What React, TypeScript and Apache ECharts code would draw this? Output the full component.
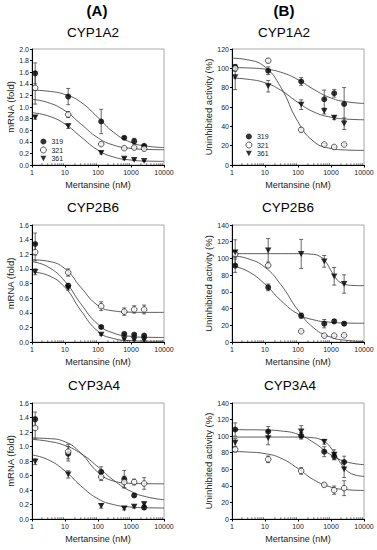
import React, { useEffect, useRef } from "react";
import * as echarts from "echarts";

// ---------------- data ----------------
const LOTS = ["319", "321", "361"];
const CONC = [1.25, 12.5, 125, 625, 1250, 2500];
const X_TICKS = [1, 10, 100, 1000, 10000];
const FIT_X = [1, 3, 10, 30, 100, 300, 1000, 3000, 10000];
const FIT_X_STEEP = [1, 10, 100, 300, 500, 700, 1000, 1500, 2000, 3000, 5000, 10000];
const MINOR_X = [
  2, 3, 4, 5, 6, 7, 8, 9, 20, 30, 40, 50, 60, 70, 80, 90,
  200, 300, 400, 500, 600, 700, 800, 900, 2000, 3000, 4000, 5000, 6000, 7000, 8000, 9000,
];

// (A) CYP1A2 mRNA (fold)
const A1_319 = [1.58, 1.18, 0.75, 0.47, 0.41, 0.33];
const A1_319_ERR = [0.18, 0.14, 0.21, 0.02, 0.05, 0.02];
const A1_321 = [1.33, 0.87, 0.36, 0.29, 0.3, 0.28];
const A1_321_ERR = [0.28, 0.05, 0.02, 0.02, 0.02, 0.03];
const A1_361 = [0.82, 0.67, 0.21, 0.11, 0.09, 0.07];
const A1_361_ERR = [0.03, 0.04, 0.02, 0.02, 0.01, 0.01];
const A1_319_FIT = [1.291, 1.273, 1.216, 1.084, 0.819, 0.561, 0.39, 0.326, 0.301];
const A1_321_FIT = [1.131, 1.078, 0.935, 0.71, 0.468, 0.342, 0.286, 0.269, 0.263];
const A1_361_FIT = [0.901, 0.849, 0.707, 0.488, 0.256, 0.137, 0.085, 0.068, 0.063];

// (B) CYP1A2 uninhibited activity (%)
const B1_319 = [101, 97.5, 86.4, 68, 74.2, 63.1];
const B1_319_ERR = [3, 4, 4, 9.5, 4, 17];
const B1_321 = [100, 107.9, 36.4, 21.2, 18.7, 21.2];
const B1_321_ERR = [3, 2, 2, 1, 1, 1];
const B1_361 = [91, 81.5, 62.4, 55.8, 48.9, 42.7];
const B1_361_ERR = [13, 6, 5, 3, 2, 6];
const B1_319_FIT = [100.8, 100.4, 99.2, 96.0, 88.3, 78.2, 69.3, 65.4, 63.7];
const B1_321_FIT = [110.5, 108.8, 101.4, 80.5, 44.7, 24.3, 17.1, 15.5, 15.1];
const B1_361_FIT = [89.9, 88.7, 85.1, 77.4, 64.7, 54.9, 49.4, 47.5, 46.8];

// (A) CYP2B6 mRNA (fold)
const A2_319 = [1.34, 0.77, 0.205, 0.11, 0.1, 0.087];
const A2_319_ERR = [0.15, 0.03, 0.02, 0.01, 0.01, 0.01];
const A2_321 = [1.23, 0.95, 0.49, 0.415, 0.445, 0.445];
const A2_321_ERR = [0.12, 0.05, 0.06, 0.05, 0.05, 0.06];
const A2_361 = [0.96, 0.74, 0.1, 0.04, 0.03, 0.025];
const A2_361_ERR = [0.04, 0.03, 0.01, 0.01, 0.01, 0.01];
const A2_319_FIT = [1.098, 1.029, 0.829, 0.524, 0.241, 0.121, 0.077, 0.065, 0.062];
const A2_321_FIT = [1.125, 1.105, 1.002, 0.749, 0.499, 0.425, 0.408, 0.405, 0.405];
const A2_361_FIT = [0.956, 0.913, 0.746, 0.433, 0.146, 0.047, 0.018, 0.012, 0.01];

// (B) CYP2B6 uninhibited activity (%)
const B2_319 = [91.3, 65.4, 31.5, 21.9, 24.7, 21.9];
const B2_319_ERR = [8, 4, 3, 5, 2, 2];
const B2_321 = [105.3, 91.7, 12.8, 7.6, 7.6, 8.0];
const B2_321_ERR = [4, 2, 1, 1, 1, 1];
const B2_361 = [107.3, 109.7, 105.3, 96.5, 78.6, 69.4];
const B2_361_ERR = [15, 14, 17.5, 7, 10.5, 11];
const B2_319_FIT = [91.2, 84.7, 69.2, 49.8, 33.5, 26.5, 23.6, 22.7, 22.4];
const B2_321_FIT = [103.2, 99.8, 89.4, 68.8, 38.1, 16.8, 5.66, 1.96, 0.6];
const B2_361_FIT = [105.7, 105.7, 105.7, 104.8, 101.5, 95.6, 85.4, 74.9, 70.8, 68.4, 67.6, 67.4];

// (A) CYP3A4 mRNA (fold)
const A3_319 = [1.375, 0.9, 0.65, 0.55, 0.325, 0.16];
const A3_319_ERR = [0.1, 0.1, 0.07, 0.12, 0.02, 0.03];
const A3_321 = [1.256, 0.93, 0.58, 0.51, 0.51, 0.49];
const A3_321_ERR = [0.15, 0.1, 0.05, 0.08, 0.04, 0.08];
const A3_361 = [0.79, 0.615, 0.18, 0.145, 0.17, 0.205];
const A3_361_ERR = [0.04, 0.05, 0.03, 0.02, 0.02, 0.03];
const A3_319_FIT = [1.097, 1.073, 1.014, 0.905, 0.719, 0.533, 0.381, 0.305, 0.266];
const A3_321_FIT = [1.118, 1.11, 1.065, 0.91, 0.644, 0.523, 0.492, 0.487, 0.485];
const A3_361_FIT = [0.883, 0.82, 0.663, 0.458, 0.278, 0.198, 0.165, 0.155, 0.152];

// (B) CYP3A4 uninhibited activity (%)
const B3_319 = [108, 105.6, 100.4, 81.2, 75.6, 68.8];
const B3_319_ERR = [8, 6, 4, 6, 4, 7];
const B3_321 = [84, 72, 58, 41.2, 34.8, 37.2];
const B3_321_ERR = [3, 4, 4, 2, 5, 9];
const B3_361 = [92, 97.6, 105.6, 93.2, 77.6, 60];
const B3_361_ERR = [5, 8, 7, 3, 6, 10];
const B3_319_FIT = [107.8, 107.7, 107.4, 106.3, 102.2, 92.3, 77.3, 68.9, 65.6];
const B3_321_FIT = [81.4, 80.8, 78.9, 73.5, 60.9, 47.3, 38.5, 35.4, 34.4];
const B3_361_FIT = [98.9, 98.9, 98.9, 98.0, 95.7, 92.3, 85.7, 74.8, 66.9, 58.5, 53.5, 51.5];

const GENES = ["CYP1A2", "CYP2B6", "CYP3A4"];
const Y_NAMES = ["mRNA (fold)", "Uninhibited activity (%)"];
const X_NAME = "Mertansine (nM)";

type Panel = {
  gene: string;
  kind: number; // 0 mRNA, 1 activity
  yMax: number;
  yStep: number;
  mean: number[][];
  err: number[][];
  fitX: number[][];
  fitY: number[][];
};

const PANELS: Panel[] = [
  { gene: GENES[0], kind: 0, yMax: 2.0, yStep: 0.2,
    mean: [A1_319, A1_321, A1_361], err: [A1_319_ERR, A1_321_ERR, A1_361_ERR],
    fitX: [FIT_X, FIT_X, FIT_X], fitY: [A1_319_FIT, A1_321_FIT, A1_361_FIT] },
  { gene: GENES[0], kind: 1, yMax: 120, yStep: 20,
    mean: [B1_319, B1_321, B1_361], err: [B1_319_ERR, B1_321_ERR, B1_361_ERR],
    fitX: [FIT_X, FIT_X, FIT_X], fitY: [B1_319_FIT, B1_321_FIT, B1_361_FIT] },
  { gene: GENES[1], kind: 0, yMax: 1.6, yStep: 0.2,
    mean: [A2_319, A2_321, A2_361], err: [A2_319_ERR, A2_321_ERR, A2_361_ERR],
    fitX: [FIT_X, FIT_X, FIT_X], fitY: [A2_319_FIT, A2_321_FIT, A2_361_FIT] },
  { gene: GENES[1], kind: 1, yMax: 140, yStep: 20,
    mean: [B2_319, B2_321, B2_361], err: [B2_319_ERR, B2_321_ERR, B2_361_ERR],
    fitX: [FIT_X, FIT_X, FIT_X_STEEP], fitY: [B2_319_FIT, B2_321_FIT, B2_361_FIT] },
  { gene: GENES[2], kind: 0, yMax: 1.6, yStep: 0.2,
    mean: [A3_319, A3_321, A3_361], err: [A3_319_ERR, A3_321_ERR, A3_361_ERR],
    fitX: [FIT_X, FIT_X, FIT_X], fitY: [A3_319_FIT, A3_321_FIT, A3_361_FIT] },
  { gene: GENES[2], kind: 1, yMax: 140, yStep: 20,
    mean: [B3_319, B3_321, B3_361], err: [B3_319_ERR, B3_321_ERR, B3_361_ERR],
    fitX: [FIT_X, FIT_X, FIT_X_STEEP], fitY: [B3_319_FIT, B3_321_FIT, B3_361_FIT] },
];

// ---------------- layout / style ----------------
const FONT = "'Liberation Sans', Arial, Helvetica, sans-serif";
const LAYOUT = [
  { left: 32, top: 49, height: 116, titleX: 93, titleY: 25 },
  { left: 232, top: 49, height: 116, titleX: 284, titleY: 25 },
  { left: 32, top: 225, height: 117, titleX: 93, titleY: 200 },
  { left: 232, top: 225, height: 117, titleX: 288, titleY: 200 },
  { left: 32, top: 403, height: 116, titleX: 94, titleY: 378 },
  { left: 232, top: 403, height: 116, titleX: 290, titleY: 378 },
];
const TRI = "path://M0,0L10,0L5,9Z";
const SYMBOLS = [
  { symbol: "circle", size: 6 as any, itemStyle: { color: "#000", borderColor: "#000", borderWidth: 0 } },
  { symbol: "circle", size: 5.6 as any, itemStyle: { color: "#fff", borderColor: "#000", borderWidth: 0.8 } },
  { symbol: TRI, size: [6.5, 5.8] as any, itemStyle: { color: "#000", borderColor: "#000", borderWidth: 0 } },
];

function buildOption() {
  const grid: any[] = [];
  const xAxis: any[] = [];
  const yAxis: any[] = [];
  const series: any[] = [];
  const title: any[] = [
    { text: "(A)", left: 97, top: 3, textAlign: "center", padding: 0,
      textStyle: { fontSize: 15, fontWeight: "bold", color: "#000", fontFamily: FONT } },
    { text: "(B)", left: 284, top: 3, textAlign: "center", padding: 0,
      textStyle: { fontSize: 15, fontWeight: "bold", color: "#000", fontFamily: FONT } },
  ];

  PANELS.forEach((p, i) => {
    const L = LAYOUT[i];
    grid.push({
      left: L.left, top: L.top, width: 132, height: L.height,
      show: true, borderColor: "#a8a8a8", borderWidth: 1, backgroundColor: "transparent",
    });
    title.push({
      text: p.gene, left: L.titleX, top: L.titleY, textAlign: "center", padding: 0,
      textStyle: { fontSize: 13.5, fontWeight: "normal", color: "#000", fontFamily: FONT },
    });
    xAxis.push({
      gridIndex: i, type: "log", logBase: 10, min: X_TICKS[0], max: X_TICKS[X_TICKS.length - 1],
      axisLine: { show: true, lineStyle: { color: "#000", width: 1 } },
      axisTick: { show: true, length: 2.5, lineStyle: { color: "#000", width: 1 } },
      axisLabel: {
        fontSize: 7, margin: 4, color: "#222", fontFamily: FONT,
        formatter: (v: number) => String(Math.round(v)),
      },
      splitLine: { show: false },
      minorTick: { show: false },
      name: X_NAME, nameLocation: "middle", nameGap: 15,
      nameTextStyle: { fontSize: 9, color: "#222", fontFamily: FONT },
    });
    yAxis.push({
      gridIndex: i, type: "value", min: 0, max: p.yMax, interval: p.yStep,
      axisLine: { show: true, lineStyle: { color: "#000", width: 1 } },
      axisTick: { show: true, length: 2, lineStyle: { color: "#000", width: 1 } },
      axisLabel: {
        fontSize: 7, margin: 3, color: "#222", fontFamily: FONT,
        formatter: (v: number) => (p.kind === 0 ? v.toFixed(1) : String(Math.round(v))),
      },
      splitLine: { show: false },
      name: Y_NAMES[p.kind], nameLocation: "middle", nameGap: p.kind === 0 ? 17 : 19,
      nameTextStyle: { fontSize: 9.5, color: "#222", fontFamily: FONT },
    });

    // minor log ticks
    series.push({
      type: "custom", xAxisIndex: i, yAxisIndex: i, silent: true, z: 1,
      data: MINOR_X.map((v) => [v, 0]),
      encode: { x: 0, y: 1 },
      clip: false,
      renderItem: (params: any, api: any) => {
        const pt = api.coord([api.value(0), api.value(1)]);
        return {
          type: "line",
          shape: { x1: pt[0], y1: pt[1], x2: pt[0], y2: pt[1] - 1.8 },
          style: { stroke: "#555", lineWidth: 0.8 },
        };
      },
    });

    LOTS.forEach((lot, j) => {
      // fitted curve
      series.push({
        name: lot + " fit", type: "line", xAxisIndex: i, yAxisIndex: i, silent: true,
        data: p.fitX[j].map((x, k) => [x, p.fitY[j][k]]),
        showSymbol: false, symbol: "none", smooth: 0.5,
        lineStyle: { color: "#333", width: 0.8 }, z: 1,
      });
      // error bars
      series.push({
        name: lot + " err", type: "custom", xAxisIndex: i, yAxisIndex: i, silent: true, z: 2,
        data: CONC.map((c, k) => [c, p.mean[j][k] - p.err[j][k], p.mean[j][k] + p.err[j][k]]),
        encode: { x: 0, y: [1, 2] },
        renderItem: (params: any, api: any) => {
          const x = api.value(0);
          const lo = api.coord([x, api.value(1)]);
          const hi = api.coord([x, api.value(2)]);
          const st = { stroke: "#444", lineWidth: 0.8 };
          return {
            type: "group",
            children: [
              { type: "line", shape: { x1: lo[0], y1: lo[1], x2: hi[0], y2: hi[1] }, style: st },
              { type: "line", shape: { x1: hi[0] - 2, y1: hi[1], x2: hi[0] + 2, y2: hi[1] }, style: st },
              { type: "line", shape: { x1: lo[0] - 2, y1: lo[1], x2: lo[0] + 2, y2: lo[1] }, style: st },
            ],
          };
        },
      });
      // points
      series.push({
        name: lot, type: "scatter", xAxisIndex: i, yAxisIndex: i, z: 3,
        symbol: SYMBOLS[j].symbol, symbolSize: SYMBOLS[j].size,
        itemStyle: SYMBOLS[j].itemStyle,
        data: CONC.map((c, k) => [c, p.mean[j][k]]),
      });
    });
  });

  const legendData = LOTS.map((lot, j) => ({
    name: lot,
    icon: SYMBOLS[j].symbol,
    itemStyle: SYMBOLS[j].itemStyle,
  }));
  const legendBase = {
    orient: "vertical", itemWidth: 6, itemHeight: 6, itemGap: 1.5, padding: 0,
    selectedMode: false, data: legendData,
    textStyle: { fontSize: 7, color: "#222", fontFamily: FONT, lineHeight: 7 },
  };
  const legend = [
    { ...legendBase, left: 40, top: 138 },
    { ...legendBase, left: 245.5, top: 133 },
  ];

  return {
    animation: false,
    textStyle: { fontFamily: FONT },
    title, grid, xAxis, yAxis, series, legend,
    tooltip: { show: false },
  };
}

export default function App() {
  const ref = useRef<HTMLDivElement>(null);
  useEffect(() => {
    if (!ref.current) return;
    const chart = echarts.init(ref.current, undefined, { renderer: "svg" });
    chart.setOption(buildOption() as any);
    return () => chart.dispose();
  }, []);
  return (
    <div
      ref={ref}
      style={{ position: "absolute", left: 0, top: 0, width: 377, height: 550, background: "#fff" }}
    />
  );
}
